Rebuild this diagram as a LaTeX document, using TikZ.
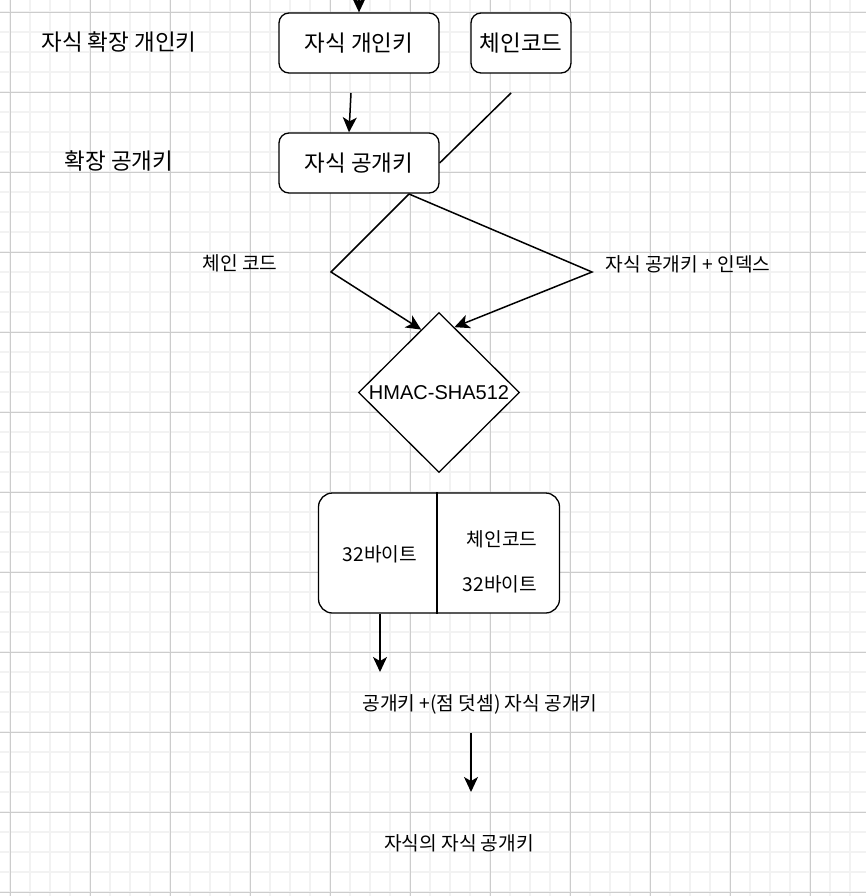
\documentclass[tikz,border=0pt]{standalone}
\usepackage{fontspec}
\setmainfont{Liberation Sans}
\newfontfamily\kr{Noto Sans CJK KR}
\usetikzlibrary{shapes.geometric,arrows.meta,calc}
\begin{document}
\begin{tikzpicture}[x=1pt,y=-1pt,
  minorgrid/.style={draw=black!5,line width=1.2pt},
  majorgrid/.style={draw=black!20,line width=0.9pt},
  box/.style={draw,line width=1.3pt,rounded corners=10pt,minimum width=160pt,minimum height=60pt,inner sep=0pt,font=\kr\fontsize{22.5}{26}\selectfont},
  lbl/.style={inner sep=0pt,font=\kr\fontsize{19.2}{22}\selectfont},
  big/.style={inner sep=0pt,font=\kr\fontsize{22.5}{26}\selectfont},
  con/.style={line width=1.5pt},
  arr/.style={con,-{Stealth[length=15pt,width=14pt,inset=4pt]}},
]
\useasboundingbox (0,0) rectangle (866,896);
\fill[white] (0,0) rectangle (866,896);
\clip (0,0) rectangle (866,896);
% grid
\foreach \x in {10,30,...,850} \draw[minorgrid] (\x,0) -- (\x,896);
\foreach \y in {12,32,...,892} \draw[minorgrid] (0,\y) -- (866,\y);
\foreach \x in {10,90,...,810} \draw[majorgrid] (\x,0) -- (\x,896);
\foreach \y in {12,92,...,892} \draw[majorgrid] (0,\y) -- (866,\y);

% top boxes
\node[box,fill=white] (cpriv) at (359,43) {자식 개인키};
\node[box,fill=white,minimum width=100pt] (chain) at (521,43) {체인코드};
\node[box,fill=white] (cpub) at (359,163) {자식 공개키};
\node[big] (lext) at (119,42) {자식 확장 개인키};
\node[big] (lpub) at (119,161) {확장 공개키};

\coordinate (topin) at (359,-30);
\draw[arr] (topin) -- (cpriv.north);
\coordinate (pa) at (351,93);
\draw[arr] (pa) -- ($(cpub.north)+(-10,0)$);
\coordinate (cc) at (511,93);
\draw[con] (cc) -- (cpub.east);

% diamond
\node[diamond,draw,fill=white,line width=1.3pt,minimum width=161pt,minimum height=160pt,inner sep=0pt,aspect=1,font=\fontsize{20}{24}\selectfont] (hmac) at (439,392.5) {HMAC-SHA512};

\coordinate (split) at (409,194);
\coordinate (lk) at (331,272);
\coordinate (rk) at (592,272);
\draw[arr] (split) -- (lk) -- ($(hmac.north)!0.22!(hmac.west)$);
\draw[arr] (split) -- (rk) -- ($(hmac.north)!0.19!(hmac.east)$);
\node[lbl] (lcc) at (240,263) {체인 코드};
\node[lbl] (lpi) at (688,264) {자식 공개키 + 인덱스};

% output box
\node[draw,fill=white,line width=1.3pt,rounded corners=14pt,minimum width=241pt,minimum height=120pt] (out) at (439,553) {};
\draw[line width=1.3pt] ($(out.north)+(-2,0)$) -- ($(out.south)+(-2,0)$);
\node[lbl] (b1) at (380,554) {32바이트};
\node[lbl] (b2) at (502,539) {체인코드};
\node[lbl] (b3) at (500,584) {32바이트};

\coordinate (s1) at (380,672);
\draw[arr] (out.south -| s1) -- (s1);
\node[lbl] (sum) at (480,704) {공개키 +(점 덧셈) 자식 공개키};
\coordinate (s2) at (471,733);
\coordinate (s3) at (471,792);
\draw[arr] (s2) -- (s3);
\node[lbl] (fin) at (459,843) {자식의 자식 공개키};
\end{tikzpicture}
\end{document}
